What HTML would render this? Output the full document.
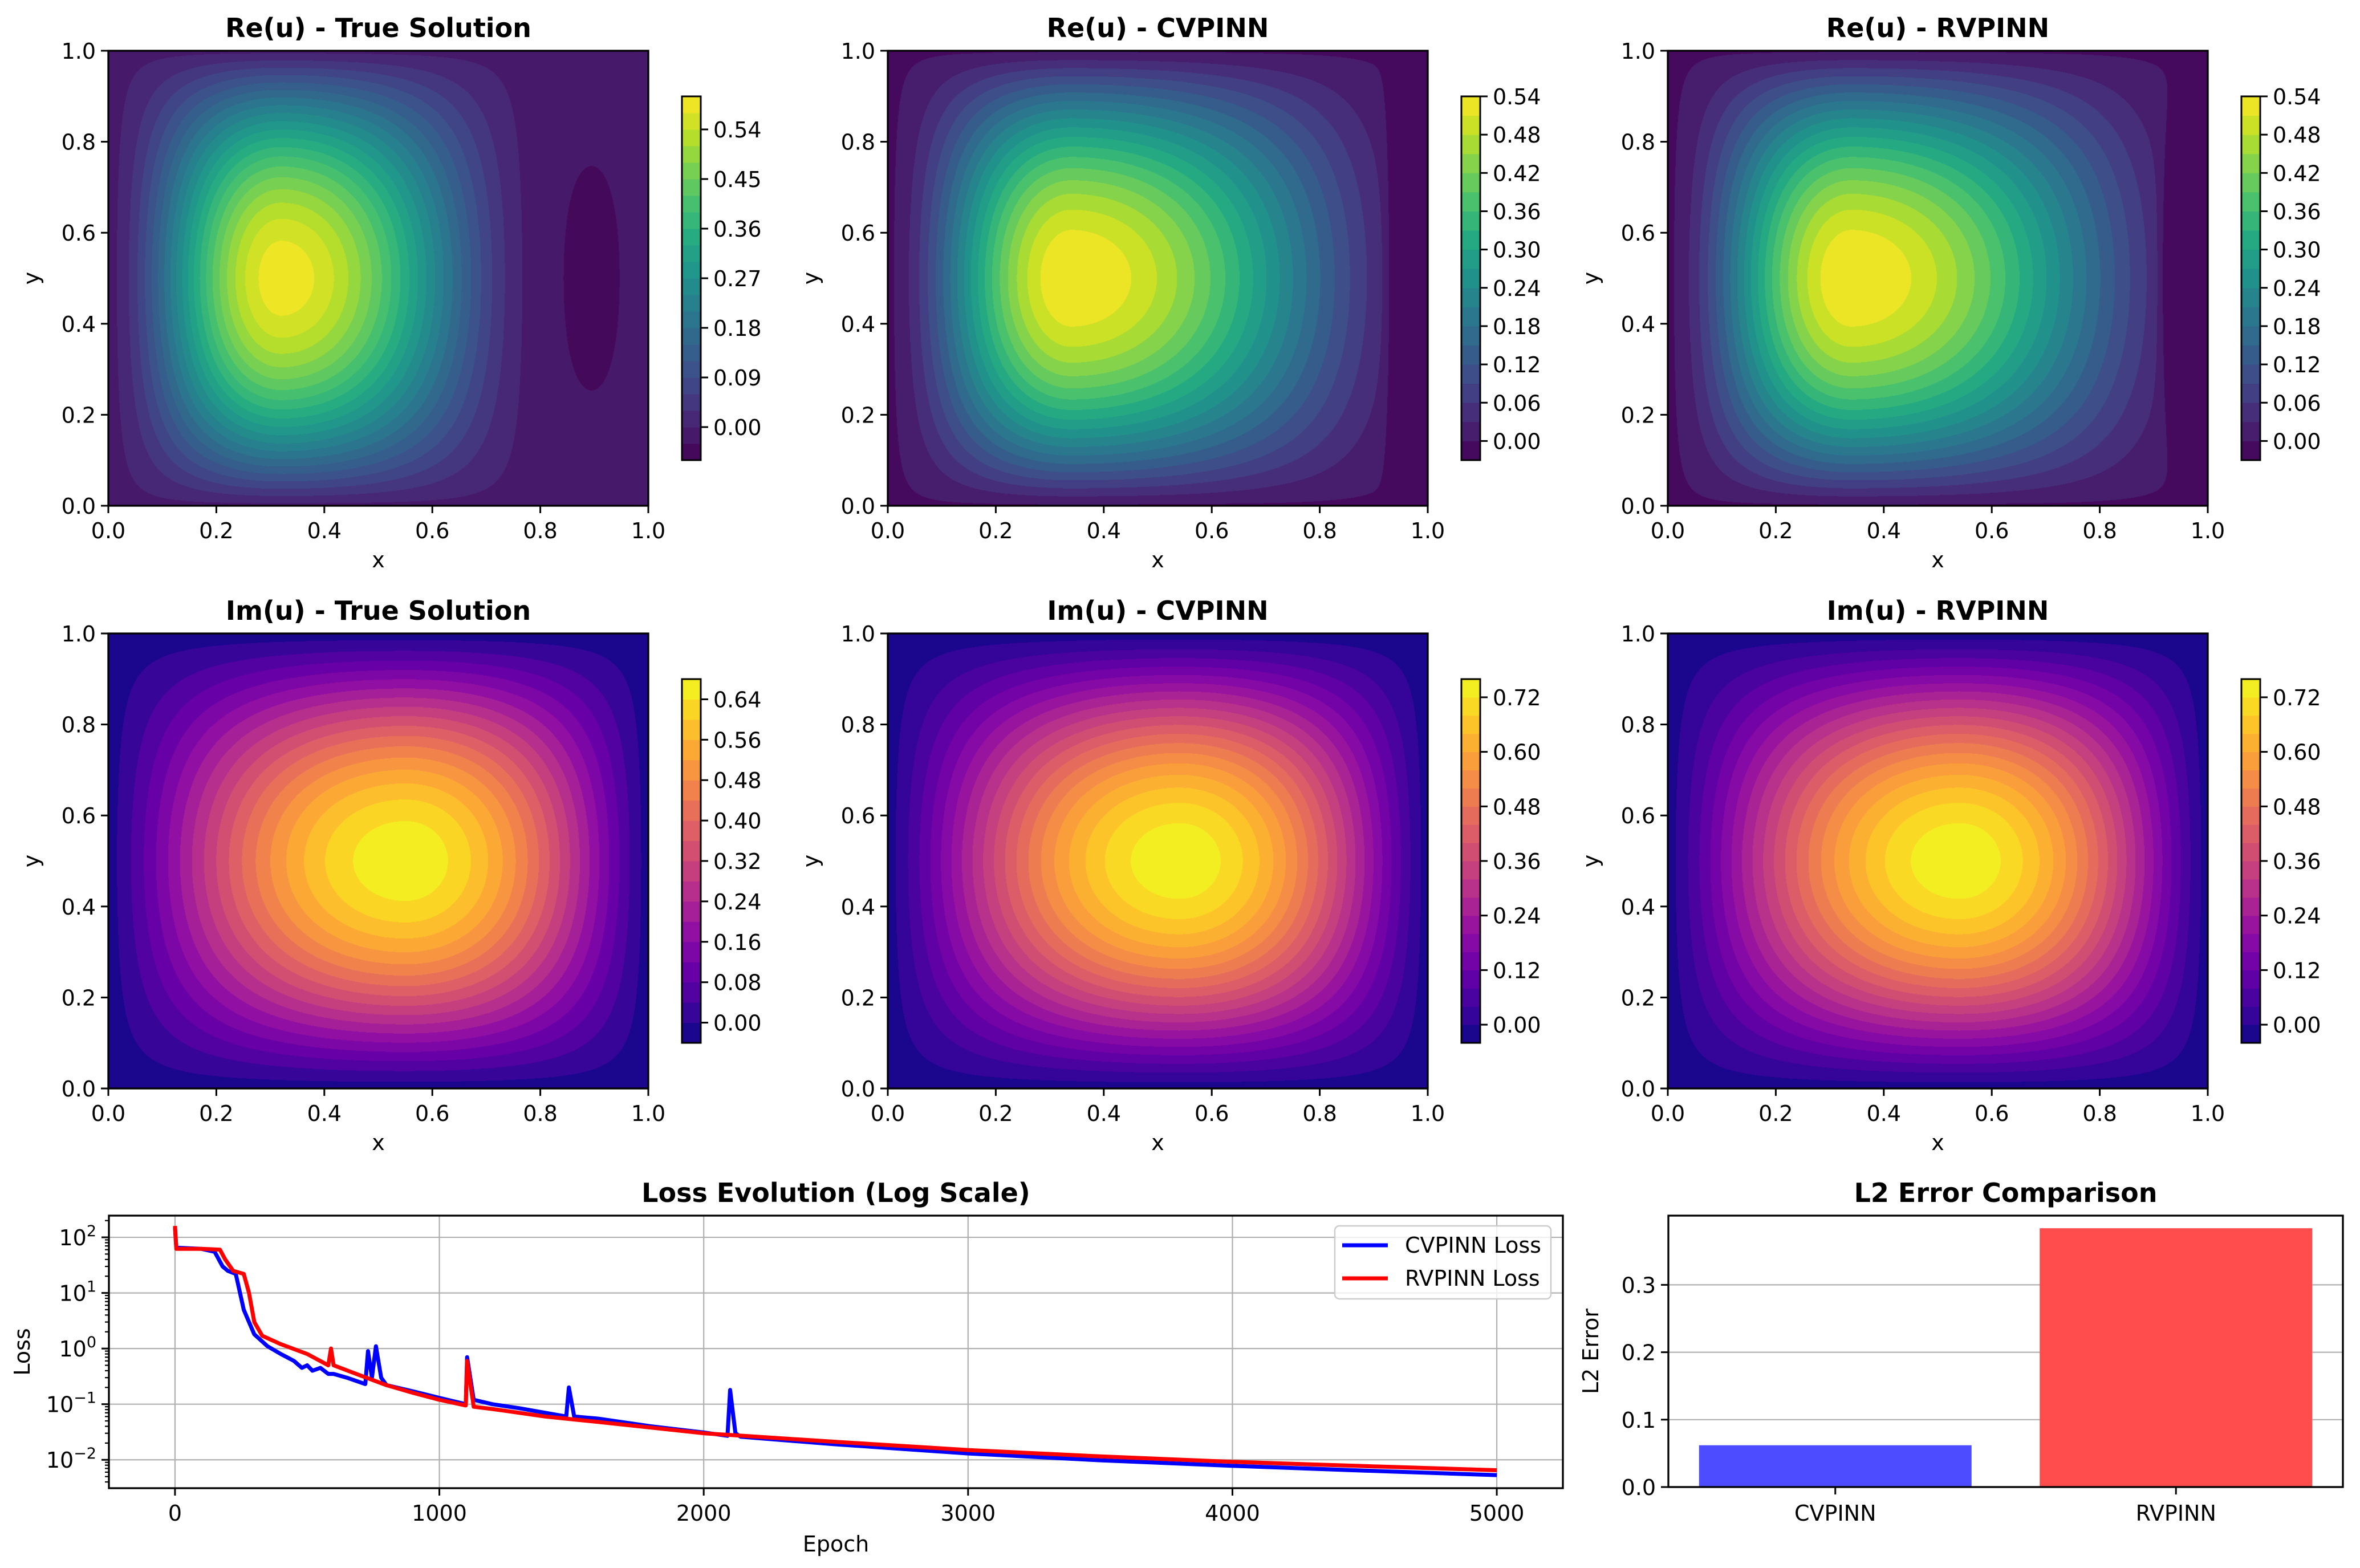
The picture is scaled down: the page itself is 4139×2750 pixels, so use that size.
<!DOCTYPE html>
<html><head><meta charset="utf-8">
<style>
html,body{margin:0;padding:0;background:#fff;}
#root{position:relative;width:4139px;height:2750px;overflow:hidden;background:#fff;font-family:"DejaVu Sans","Liberation Sans",sans-serif;}
canvas{position:absolute;}
svg{position:absolute;left:0;top:0;}
</style></head>
<body>
<div id="root">
<svg id="svg" width="4139" height="2750" viewBox="0 0 4139 2750"></svg>
</div>
<script>
// ---------- contour panel data ----------
const panelTitles = ["Re(u) - True Solution","Re(u) - CVPINN","Re(u) - RVPINN","Im(u) - True Solution","Im(u) - CVPINN","Im(u) - RVPINN"];
const panelNames = ["re-true","re-cvpinn","re-rvpinn","im-true","im-cvpinn","im-rvpinn"];
const peakX = [0.32,0.34,0.34,0.55,0.54,0.54];
const peakAmp = [0.60,0.545,0.545,0.69,0.77,0.77];
const supportEnd = [0.79,1.0,1.0,1.0,1.0,1.0];
const baseOffset = [-0.01,-0.005,-0.005,-0.02,-0.02,-0.02];
const xSharp = [1.6,1.6,1.6,1.0,1.0,1.0];
const dipX = [0.895,0.95,0.935,0,0,0];
const dipAmp = [0.028,0.07,0.07,0,0,0];
const levelMin = [-0.06,-0.03,-0.03,-0.04,-0.04,-0.04];
const levelMax = [0.60,0.54,0.54,0.68,0.76,0.76];
const levelStep = [0.03,0.03,0.03,0.04,0.04,0.04];
const cbarTicks = [
  ["0.00","0.09","0.18","0.27","0.36","0.45","0.54"],
  ["0.00","0.06","0.12","0.18","0.24","0.30","0.36","0.42","0.48","0.54"],
  ["0.00","0.06","0.12","0.18","0.24","0.30","0.36","0.42","0.48","0.54"],
  ["0.00","0.08","0.16","0.24","0.32","0.40","0.48","0.56","0.64"],
  ["0.00","0.12","0.24","0.36","0.48","0.60","0.72"],
  ["0.00","0.12","0.24","0.36","0.48","0.60","0.72"]];
const axisTicks01 = ["0.0","0.2","0.4","0.6","0.8","1.0"];

// ---------- loss data ----------
const cvEpochs = [0,5,100,150,180,200,230,260,280,300,350,400,450,480,500,520,550,580,600,650,720,730,745,760,780,800,900,1000,1100,1105,1130,1200,1300,1480,1490,1510,1600,1800,2000,2090,2100,2120,2140,2500,3000,3500,4000,4500,5000];
const cvLoss = [150,65,62,55,30,25,22,5,3,1.8,1.1,0.8,0.6,0.45,0.5,0.4,0.45,0.35,0.35,0.3,0.23,0.9,0.3,1.1,0.3,0.22,0.17,0.13,0.1,0.7,0.12,0.1,0.085,0.06,0.2,0.06,0.055,0.04,0.031,0.027,0.18,0.03,0.026,0.019,0.013,0.0098,0.0078,0.0064,0.0053];
const rvEpochs = [0,5,100,170,190,220,260,280,300,330,400,500,580,590,600,700,800,900,1000,1100,1105,1130,1200,1400,1600,2000,2500,3000,3500,4000,4500,5000];
const rvLoss = [160,62,62,60,40,25,22,10,3,1.7,1.2,0.8,0.5,1.0,0.5,0.33,0.22,0.16,0.12,0.095,0.6,0.09,0.082,0.06,0.048,0.03,0.021,0.015,0.0115,0.0092,0.0077,0.0065];
const lossXTicks = [0,1000,2000,3000,4000,5000];
const lossYExps = [-2,-1,0,1,2];

// ---------- bar data ----------
const barCategories = ["CVPINN","RVPINN"];
const barValues = [0.062,0.384];
const barYTicks = [0.0,0.1,0.2,0.3];

const NS="http://www.w3.org/2000/svg";
const svg=document.getElementById('svg');
function mk(tag,attrs,parent){const e=document.createElementNS(NS,tag);for(const k in attrs)e.setAttribute(k,attrs[k]);(parent||svg).appendChild(e);return e;}
function txt(s,x,y,size,anchor,weight,parent){const t=mk('text',{x:x,y:y,'font-size':size,'text-anchor':anchor||'middle','font-family':'DejaVu Sans, Liberation Sans, sans-serif','font-weight':weight||'normal',fill:'#000'},parent);t.textContent=s;return t;}

function hex(h){return [parseInt(h.substr(1,2),16),parseInt(h.substr(3,2),16),parseInt(h.substr(5,2),16)];}
const VIR=["#440154","#482475","#414487","#355f8d","#2a788e","#21918c","#22a884","#44bf70","#7ad151","#bddf26","#fde725"].map(hex);
const PLA=["#0d0887","#41049d","#6a00a8","#8f0da4","#b12a90","#cc4778","#e16462","#f2844b","#fca636","#fcce25","#f0f921"].map(hex);
function cmap(stops,t){t=Math.max(0,Math.min(1,t));const f=t*(stops.length-1);const i=Math.min(stops.length-2,Math.floor(f));const r=f-i;const a=stops[i],b=stops[i+1];return [Math.round(a[0]+(b[0]-a[0])*r),Math.round(a[1]+(b[1]-a[1])*r),Math.round(a[2]+(b[2]-a[2])*r)];}

function field(p,x,y){
  const px=peakX[p],end=supportEnd[p];
  let v=baseOffset[p];
  if(x<end){
    const s = x<px ? 0.5*x/px : 0.5+0.5*(x-px)/(end-px);
    let prod=Math.pow(Math.sin(Math.PI*s),xSharp[p])*Math.sin(Math.PI*y);
    if(p>=3) prod=Math.pow(Math.max(prod,0),1.15);
    v+=peakAmp[p]*prod;
  }
  if(dipAmp[p]>0){
    if(p===0){ if(x>=end){const s=(x-end)/(1-end); v-=dipAmp[p]*Math.sin(Math.PI*s)*Math.sin(Math.PI*y);} }
    else { const g=Math.exp(-Math.pow((x-dipX[p])/0.022,2)); const yy = p===2?Math.pow(Math.sin(Math.PI*y),2):Math.pow(Math.sin(Math.PI*y),0.3); v-=dipAmp[p]*g*yy; }
  }
  return v;
}

const colX=[190,1557,2925], rowY=[89,1111], AW=947, AH=798;
const root=document.getElementById('root');

for(let p=0;p<6;p++){
  const L=colX[p%3], T=rowY[Math.floor(p/3)];
  const stops = p<3?VIR:PLA;
  const nb=Math.round((levelMax[p]-levelMin[p])/levelStep[p]);
  const cv=document.createElement('canvas');
  cv.width=AW;cv.height=AH;cv.style.left=L+'px';cv.style.top=T+'px';
  
  
  root.insertBefore(cv,svg);
  const ctx=cv.getContext('2d');const img=ctx.createImageData(AW,AH);
  const cache=[];for(let b=0;b<nb;b++)cache.push(cmap(stops,(b+0.5)/nb));
  for(let j=0;j<AH;j++){const y=1-(j+0.5)/AH;for(let i=0;i<AW;i++){const x=(i+0.5)/AW;let b=Math.floor((field(p,x,y)-levelMin[p])/levelStep[p]);b=Math.max(0,Math.min(nb-1,b));const c=cache[b];const k=(j*AW+i)*4;img.data[k]=c[0];img.data[k+1]=c[1];img.data[k+2]=c[2];img.data[k+3]=255;}}
  ctx.putImageData(img,0,0);
  const g=mk('g',{});
  
  
  mk('rect',{x:L,y:T,width:AW,height:AH,fill:'none',stroke:'#000','stroke-width':3.3},g);
  const t=txt(panelTitles[p],L+AW/2,T-24,46,'middle','bold',g);
  
  
  for(let k=0;k<axisTicks01.length;k++){
    const v=k/5; const xx=L+v*AW, yy=T+AH-v*AH;
    mk('line',{x1:xx,y1:T+AH,x2:xx,y2:T+AH+13,stroke:'#000','stroke-width':3},g);
    txt(axisTicks01[k],xx,T+AH+57,38,'middle','normal',g);
    mk('line',{x1:L-13,y1:yy,x2:L,y2:yy,stroke:'#000','stroke-width':3},g);
    txt(axisTicks01[k],L-22,yy+14,38,'end','normal',g);
  }
  const xl=txt('x',L+AW/2,T+AH+108,38,'middle','normal',g);
  
  
  const yl=txt('y',0,0,38,'middle','normal',g);
  yl.setAttribute('transform','translate('+(L-122)+','+(T+AH/2)+') rotate(-90)');
  
  
  const CL=L+1006, CT=T+80, CW=33, CH=638;
  const cb=mk('g',{});
  
  
  for(let b=0;b<nb;b++){const c=cache[b];const y0=CT+CH-(b+1)*CH/nb;
    const r=mk('rect',{x:CL,y:y0-0.5,width:CW,height:CH/nb+1,fill:'rgb('+c.join(',')+')'},cb);
    
    }
  mk('rect',{x:CL,y:CT,width:CW,height:CH,fill:'none',stroke:'#000','stroke-width':3},cb);
  for(const lab of cbarTicks[p]){const v=parseFloat(lab);const yy=CT+CH-(v-levelMin[p])/(levelMax[p]-levelMin[p])*CH;
    mk('line',{x1:CL+CW,y1:yy,x2:CL+CW+13,y2:yy,stroke:'#000','stroke-width':3},cb);
    txt(lab,CL+CW+22,yy+14,38,'start','normal',cb);}
}

// ---------- Loss plot ----------
const LL=191,LR=2741,LT=2132,LB=2610;
const xMin=-250,xMax=5250,yMinE=-2.51,yMaxE=2.39;
function lx(e){return LL+(e-xMin)/(xMax-xMin)*(LR-LL);}
function ly(v){return LB-(Math.log10(v)-yMinE)/(yMaxE-yMinE)*(LB-LT);}
const lg=mk('g',{});


mk('clipPath',{id:'lossclip'},lg);
mk('rect',{x:LL,y:LT,width:LR-LL,height:LB-LT},document.getElementById('lossclip'));
for(const e of lossXTicks){const xx=lx(e);
  mk('line',{x1:xx,y1:LT,x2:xx,y2:LB,stroke:'#b0b0b0','stroke-width':2.2},lg);
  mk('line',{x1:xx,y1:LB,x2:xx,y2:LB+13,stroke:'#000','stroke-width':3},lg);
  txt(String(e),xx,LB+57,38,'middle','normal',lg);}
for(let d=-3;d<=2;d++){for(let m=2;m<=9;m++){const v=m*Math.pow(10,d);const yy=ly(v);if(yy<LT||yy>LB)continue;
  mk('line',{x1:LL-7,y1:yy,x2:LL,y2:yy,stroke:'#000','stroke-width':2.2},lg);}}
for(const e of lossYExps){const yy=ly(Math.pow(10,e));
  mk('line',{x1:LL,y1:yy,x2:LR,y2:yy,stroke:'#b0b0b0','stroke-width':2.2},lg);
  mk('line',{x1:LL-13,y1:yy,x2:LL,y2:yy,stroke:'#000','stroke-width':3},lg);
  const t=mk('text',{x:LL-22,y:yy+14,'font-size':38,'text-anchor':'end','font-family':'DejaVu Sans, sans-serif'},lg);
  const a=mk('tspan',{},t);a.textContent='10';
  const b=mk('tspan',{dy:-16,'font-size':27},t);b.textContent=(e<0?'\u2212':'')+Math.abs(e);}
function pathFrom(xs,ys){let d='';for(let i=0;i<xs.length;i++){d+=(i?'L':'M')+lx(xs[i]).toFixed(1)+','+ly(ys[i]).toFixed(1);}return d;}
const cvLine=mk('path',{d:pathFrom(cvEpochs,cvLoss),fill:'none',stroke:'#0000ff','stroke-width':7,'stroke-linejoin':'round','clip-path':'url(#lossclip)'},lg);


const rvLine=mk('path',{d:pathFrom(rvEpochs,rvLoss),fill:'none',stroke:'#ff0000','stroke-width':7,'stroke-linejoin':'round','clip-path':'url(#lossclip)'},lg);


mk('rect',{x:LL,y:LT,width:LR-LL,height:LB-LT,fill:'none',stroke:'#000','stroke-width':3.3},lg);
const lt=txt('Loss Evolution (Log Scale)',(LL+LR)/2,2108,46,'middle','bold',lg);


const ex=txt('Epoch',(LL+LR)/2,2721,38,'middle','normal',lg);


const lsy=txt('Loss',0,0,38,'middle','normal',lg);
lsy.setAttribute('transform','translate(52,'+((LT+LB)/2)+') rotate(-90)');


const leg=mk('g',{},lg);


mk('rect',{x:2341,y:2150,width:379,height:128,rx:8,fill:'#fff','fill-opacity':0.8,stroke:'#cccccc','stroke-width':2.5},leg);
const le1=mk('line',{x1:2354,y1:2184,x2:2434,y2:2184,stroke:'#0000ff','stroke-width':7},leg);


txt('CVPINN Loss',2464,2197,38,'start','normal',leg);
const le2=mk('line',{x1:2354,y1:2242,x2:2434,y2:2242,stroke:'#ff0000','stroke-width':7},leg);


txt('RVPINN Loss',2464,2255,38,'start','normal',leg);

// ---------- Bar chart ----------
const BL=2926,BR=4109,BT=2132,BB=2608;
const bxMin=-0.49,bxMax=1.49,byMax=0.4027;
function bx(i){return BL+(i-bxMin)/(bxMax-bxMin)*(BR-BL);}
function by(v){return BB-v/byMax*(BB-BT);}
const bg=mk('g',{});


for(const v of barYTicks){const yy=by(v);
  if(v>0) mk('line',{x1:BL,y1:yy,x2:BR,y2:yy,stroke:'#b0b0b0','stroke-width':2.2},bg);
  mk('line',{x1:BL-13,y1:yy,x2:BL,y2:yy,stroke:'#000','stroke-width':3},bg);
  txt(v.toFixed(1),BL-22,yy+14,38,'end','normal',bg);}
const barColors=['#4d4dff','#ff4d4d'];
for(let i=0;i<barCategories.length;i++){
  const x0=bx(i-0.4),x1=bx(i+0.4);
  const r=mk('rect',{x:x0,y:by(barValues[i]),width:x1-x0,height:BB-by(barValues[i]),fill:barColors[i]},bg);
  
  
  mk('line',{x1:bx(i),y1:BB,x2:bx(i),y2:BB+13,stroke:'#000','stroke-width':3},bg);
  txt(barCategories[i],bx(i),BB+59,38,'middle','normal',bg);}
mk('rect',{x:BL,y:BT,width:BR-BL,height:BB-BT,fill:'none',stroke:'#000','stroke-width':3.3},bg);
const bt=txt('L2 Error Comparison',(BL+BR)/2,2108,46,'middle','bold',bg);


const byl=txt('L2 Error',0,0,38,'middle','normal',bg);
byl.setAttribute('transform','translate(2803,'+((BT+BB)/2)+') rotate(-90)');


</script>
</body></html>
